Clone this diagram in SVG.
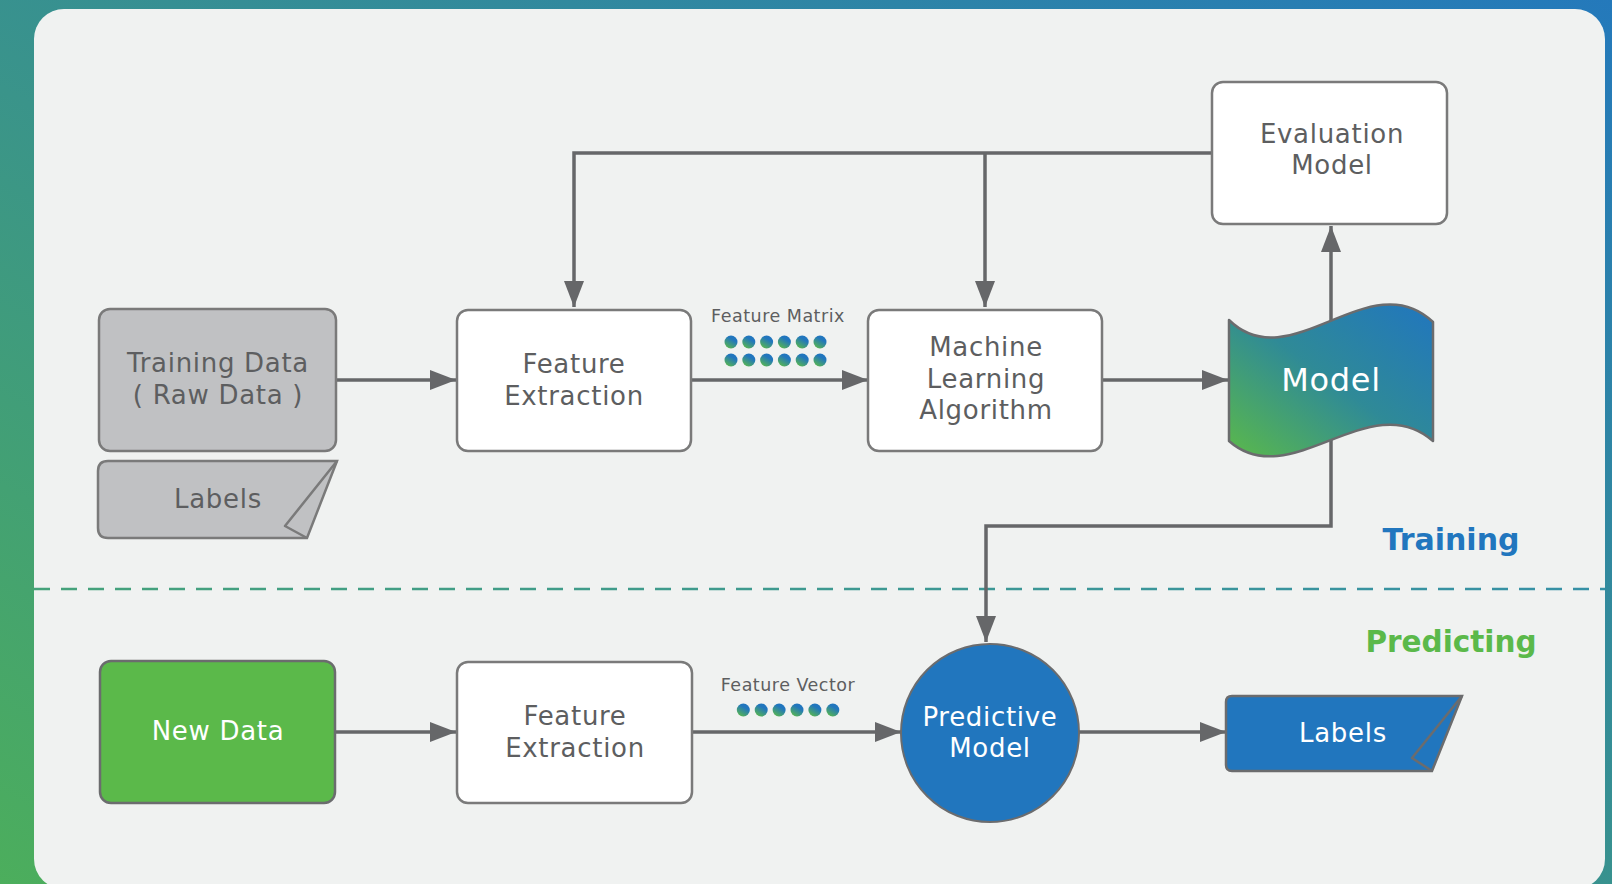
<svg xmlns="http://www.w3.org/2000/svg" width="1612" height="884" viewBox="0 0 1612 884">
<defs>
<linearGradient id="bg" x1="0" y1="1" x2="1" y2="0">
<stop offset="0" stop-color="#4cae5c"/>
<stop offset="0.45" stop-color="#3a948a"/>
<stop offset="1" stop-color="#2479bb"/>
</linearGradient>
<linearGradient id="dash" gradientUnits="userSpaceOnUse" x1="34" y1="589" x2="1605" y2="589">
<stop offset="0" stop-color="#45a27a"/>
<stop offset="1" stop-color="#3690a6"/>
</linearGradient>
<linearGradient id="model" x1="0" y1="1" x2="1" y2="0">
<stop offset="0" stop-color="#5bb94a"/>
<stop offset="0.5" stop-color="#2f8a97"/>
<stop offset="1" stop-color="#2176be"/>
</linearGradient>
<linearGradient id="dot" x1="0.8" y1="0" x2="0.2" y2="1">
<stop offset="0.3" stop-color="#2176be"/>
<stop offset="1" stop-color="#5bb94a"/>
</linearGradient>
<marker id="arr" markerUnits="userSpaceOnUse" markerWidth="26" markerHeight="20" refX="26" refY="10" orient="auto">
<path d="M0,0 L26,10 L0,20 Z" fill="#666769"/>
</marker>
</defs>
<style>
.box{fill:#ffffff;stroke:#7a7a7a;stroke-width:2.5}
.gray{fill:#c0c1c3;stroke:#7a7a7a;stroke-width:2.5}
.conn{fill:none;stroke:#666769;stroke-width:3.5}
.t{font-family:"DejaVu Sans","Liberation Sans",sans-serif;font-size:26px;letter-spacing:0.7px;fill:#5d5e60;text-anchor:middle}
.w{fill:#ffffff}
.small{font-family:"DejaVu Sans","Liberation Sans",sans-serif;font-size:17.5px;letter-spacing:0.5px;fill:#5d5e60;text-anchor:middle}
.phase{font-family:"DejaVu Sans","Liberation Sans",sans-serif;font-weight:bold;text-anchor:middle}
</style>
<rect x="0" y="0" width="1612" height="884" fill="url(#bg)"/>
<rect x="34" y="9" width="1571" height="880" rx="30" fill="#f0f2f1"/>
<line x1="34" y1="589" x2="1605" y2="589" stroke="url(#dash)" stroke-width="2.5" stroke-dasharray="16 11"/>

<g id="connectors">
<path class="conn" d="M1212,153 L574,153 L574,307" marker-end="url(#arr)"/>
<path class="conn" d="M985,153 L985,307" marker-end="url(#arr)"/>
<path class="conn" d="M336,380 L456,380" marker-end="url(#arr)"/>
<path class="conn" d="M691,380 L868,380" marker-end="url(#arr)"/>
<path class="conn" d="M1102,380 L1228,380" marker-end="url(#arr)"/>
<path class="conn" d="M1331,330 L1331,226" marker-end="url(#arr)"/>
<path class="conn" d="M1331,440 L1331,526 L986,526 L986,642" marker-end="url(#arr)"/>
<path class="conn" d="M335,732 L456,732" marker-end="url(#arr)"/>
<path class="conn" d="M692,732 L901,732" marker-end="url(#arr)"/>
<path class="conn" d="M1079,732 L1226,732" marker-end="url(#arr)"/>
</g>

<g id="training-data">
<rect class="gray" x="99" y="309" width="237" height="142" rx="11"/>
<text class="t" x="218" y="372">Training Data</text>
<text class="t" x="218" y="404">( Raw Data )</text>
</g>

<g id="labels-training">
<path class="gray" d="M108,461 L337,461 L307,538 L108,538 Q98,538 98,528 L98,471 Q98,461 108,461 Z"/>
<path d="M337,461 L285,526 L307,538" fill="none" stroke="#7a7a7a" stroke-width="2.5" stroke-linejoin="round"/>
<text class="t" x="218" y="508">Labels</text>
</g>

<g id="feature-extraction-1">
<rect class="box" x="457" y="310" width="234" height="141" rx="11"/>
<text class="t" x="574" y="373">Feature</text>
<text class="t" x="574" y="405">Extraction</text>
</g>

<g id="feature-matrix">
<text class="small" x="778" y="322">Feature Matrix</text>
<g fill="url(#dot)">
<circle cx="731" cy="342" r="6.5"/><circle cx="748.8" cy="342" r="6.5"/><circle cx="766.6" cy="342" r="6.5"/><circle cx="784.4" cy="342" r="6.5"/><circle cx="802.2" cy="342" r="6.5"/><circle cx="820" cy="342" r="6.5"/>
<circle cx="731" cy="360" r="6.5"/><circle cx="748.8" cy="360" r="6.5"/><circle cx="766.6" cy="360" r="6.5"/><circle cx="784.4" cy="360" r="6.5"/><circle cx="802.2" cy="360" r="6.5"/><circle cx="820" cy="360" r="6.5"/>
</g>
</g>

<g id="ml-algorithm">
<rect class="box" x="868" y="310" width="234" height="141" rx="11"/>
<text class="t" x="986" y="356">Machine</text>
<text class="t" x="986" y="388">Learning</text>
<text class="t" x="986" y="419">Algorithm</text>
</g>

<g id="evaluation-model">
<rect class="box" x="1212" y="82" width="235" height="142" rx="11"/>
<text class="t" x="1332" y="143">Evaluation</text>
<text class="t" x="1332" y="174">Model</text>
</g>

<g id="model">
<path d="M1229,320 C1290,380 1370,262 1433,322 L1433,441 C1370,385 1290,495 1229,441 Z" fill="url(#model)" stroke="#6b6c6e" stroke-width="2.5" stroke-linejoin="round"/>
<text class="t w" x="1331" y="391" style="font-size:32px">Model</text>
</g>

<g id="new-data">
<rect x="100" y="661" width="235" height="142" rx="11" fill="#5bb94a" stroke="#6b6c6e" stroke-width="2.5"/>
<text class="t w" x="218" y="740">New Data</text>
</g>

<g id="feature-extraction-2">
<rect class="box" x="457" y="662" width="235" height="141" rx="11"/>
<text class="t" x="575" y="725">Feature</text>
<text class="t" x="575" y="757">Extraction</text>
</g>

<g id="feature-vector">
<text class="small" x="788" y="691">Feature Vector</text>
<g fill="url(#dot)">
<circle cx="743.3" cy="710" r="6.5"/><circle cx="761.2" cy="710" r="6.5"/><circle cx="779.1" cy="710" r="6.5"/><circle cx="797" cy="710" r="6.5"/><circle cx="814.9" cy="710" r="6.5"/><circle cx="832.8" cy="710" r="6.5"/>
</g>
</g>

<g id="predictive-model">
<circle cx="990" cy="733" r="89" fill="#2176be" stroke="#6b6c6e" stroke-width="2"/>
<text class="t w" x="990" y="726">Predictive</text>
<text class="t w" x="990" y="757">Model</text>
</g>

<g id="labels-predicted">
<path d="M1232,696 L1462,696 L1432,771 L1232,771 Q1226,771 1226,765 L1226,702 Q1226,696 1232,696 Z" fill="#2176be" stroke="#6b6c6e" stroke-width="2.5"/>
<path d="M1462,696 L1412,758 L1432,771" fill="none" stroke="#6b6c6e" stroke-width="2.5" stroke-linejoin="round"/>
<text class="t w" x="1343" y="742">Labels</text>
</g>

<g id="phase-labels">
<text class="phase" x="1451" y="550" font-size="30" fill="#2176be">Training</text>
<text class="phase" x="1451" y="652" font-size="29.5" fill="#5bb94a">Predicting</text>
</g>
</svg>
